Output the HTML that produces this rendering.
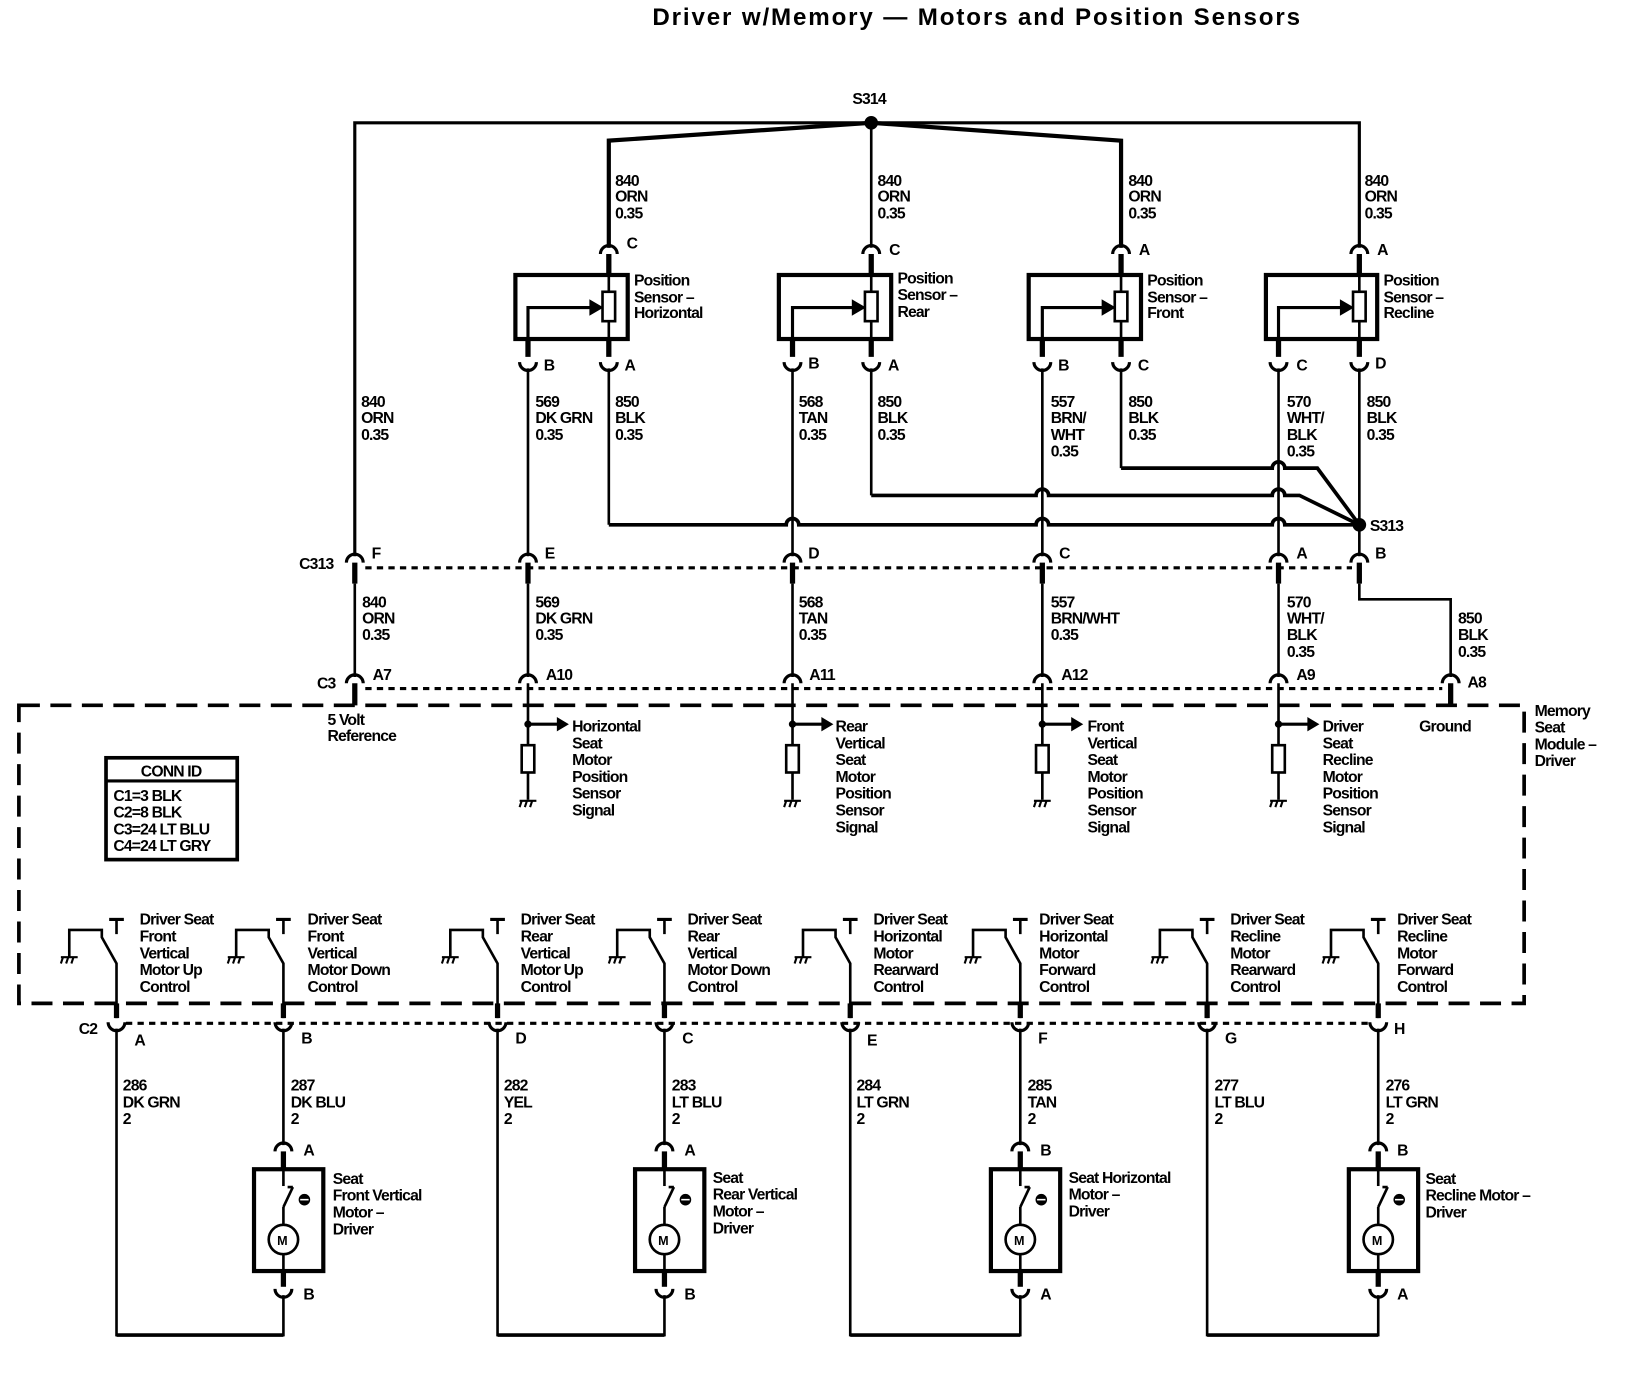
<!DOCTYPE html>
<html><head><meta charset="utf-8"><style>
html,body{margin:0;padding:0;background:#fff}
svg{display:block}
text{font-family:"Liberation Sans",sans-serif;font-size:15px;font-weight:bold;letter-spacing:-0.8px;fill:#000}
</style></head><body>
<svg width="1648" height="1376" viewBox="0 0 1570 1311" preserveAspectRatio="none" xmlns="http://www.w3.org/2000/svg">
<defs>
<g id="cu"><path d="M-8,6 A8,8 0 0 1 8,6" fill="none" stroke="#000" stroke-width="3"/></g>
<g id="cd"><path d="M-8,-6 A8,8 0 0 0 8,-6" fill="none" stroke="#000" stroke-width="3"/></g>
<g id="gnd" fill="none" stroke="#000" stroke-width="2"><path d="M-8,0 H8 M-6,0 L-8,6 M-1,0 L-3,6 M4,0 L2,6"/></g>
<g id="sw" fill="none" stroke="#000">
<path d="M-7,876 H7" stroke-width="3"/><path d="M0,876 V890" stroke-width="2.5"/>
<path d="M-45,912 V886 H-14 V893 L0,918 V970" stroke-width="2.5"/>
<path d="M0,956 V970" stroke-width="5"/>
<use href="#gnd" x="-45" y="912"/>
<use href="#cd" x="0" y="980"/>
</g>
<g id="sens" fill="none" stroke="#000">
<path d="M0,651 V710 M0,736 V762" stroke-width="2.5"/>
<circle cx="0" cy="690" r="3" fill="#000"/>
<path d="M0,690 H30" stroke-width="3"/><path d="M28,684 L38,690 L28,696 Z" fill="#000"/>
<rect x="-6" y="710" width="12" height="26" stroke-width="2.5" fill="#fff"/>
<use href="#gnd" x="0" y="763"/>
</g>
<g id="mot" fill="none" stroke="#000">
<use href="#cu" x="0" y="1091"/>
<path d="M0,1097 V1114" stroke-width="5"/>
<rect x="-28" y="1114" width="66" height="97" stroke-width="4"/>
<path d="M0,1114 V1130" stroke-width="2.5"/>
<path d="M0,1150 L9,1131 M9,1131 H4" stroke-width="2.5"/>
<path d="M0,1150 V1167 M0,1195 V1211" stroke-width="2.5"/>
<circle cx="20" cy="1143" r="5" fill="#000"/><path d="M16,1143 H24" stroke="#fff" stroke-width="1.5"/>
<circle cx="0" cy="1181" r="14" stroke-width="2.5" fill="#fff"/>
<path d="M0,1211 V1226" stroke-width="5"/>
<use href="#cd" x="0" y="1234"/>
</g>
</defs>

<text x="930" y="24" text-anchor="middle" style="font-size:23px;letter-spacing:0" textLength="617">Driver w/Memory — Motors and Position Sensors</text>

<g fill="none" stroke="#000">
<!-- top bus -->
<path d="M338,530 V117 H1295 V236" stroke-width="3"/>
<path d="M580,236 V134 L830,117 L1068,134 V236" stroke-width="4" stroke-linejoin="miter"/>
<path d="M580,134 V236 M1068,134 V236" stroke-width="2.5"/>
<path d="M830,117 V236" stroke-width="2.5"/>
<circle cx="830" cy="117" r="6" fill="#000"/>
<!-- sensor top connectors -->
<use href="#cu" x="580" y="236"/><use href="#cu" x="830" y="236"/><use href="#cu" x="1068" y="236"/><use href="#cu" x="1295" y="236"/>
<path d="M580,242 V262 M830,242 V262 M1068,242 V262 M1295,242 V262" stroke-width="5"/>
<!-- sensor boxes -->
<rect x="491" y="262" width="107" height="61" stroke-width="4"/>
<rect x="742" y="262" width="107" height="61" stroke-width="4"/>
<rect x="980" y="262" width="107" height="61" stroke-width="4"/>
<rect x="1206" y="262" width="106" height="61" stroke-width="4"/>
<path d="M580,262 V323 M830,262 V323 M1068,262 V323 M1295,262 V323" stroke-width="2.5"/>
<rect x="574" y="278" width="12" height="28" stroke-width="2.5" fill="#fff"/>
<rect x="824" y="278" width="12" height="28" stroke-width="2.5" fill="#fff"/>
<rect x="1062" y="278" width="12" height="28" stroke-width="2.5" fill="#fff"/>
<rect x="1289" y="278" width="12" height="28" stroke-width="2.5" fill="#fff"/>
<path d="M503,323 V293 H564 M755,323 V293 H814 M993,323 V293 H1052 M1218,323 V293 H1279" stroke-width="3"/>
<path d="M562,286 L574,293 L562,300 Z M812,286 L824,293 L812,300 Z M1050,286 L1062,293 L1050,300 Z M1277,286 L1289,293 L1277,300 Z" fill="#000"/>
<!-- bottom stubs -->
<path d="M503,323 V340 M580,323 V340 M755,323 V340 M830,323 V340 M993,323 V340 M1068,323 V340 M1218,323 V340 M1295,323 V340" stroke-width="5"/>
<use href="#cd" x="503" y="351"/><use href="#cd" x="580" y="351"/><use href="#cd" x="755" y="351"/><use href="#cd" x="830" y="351"/>
<use href="#cd" x="993" y="351"/><use href="#cd" x="1068" y="351"/><use href="#cd" x="1218" y="351"/><use href="#cd" x="1295" y="351"/>
<!-- wires to C313 -->
<path d="M503,351 V530 M755,351 V530 M993,351 V530 M1218,351 V530 M1295,351 V530" stroke-width="2.5"/>
<path d="M580,351 V500 M830,351 V472 M1068,351 V446" stroke-width="2.5"/>
<path d="M580,500 H749 A6,6 0 0 1 761,500 H987 A6,6 0 0 1 999,500 H1212 A6,6 0 0 1 1224,500 H1295" stroke-width="3.5"/>
<path d="M830,472 H987 A6,6 0 0 1 999,472 H1212 A6,6 0 0 1 1224,472 H1238 L1295,500" stroke-width="3.5"/>
<path d="M1068,446 H1212 A6,6 0 0 1 1224,446 H1255 L1295,500" stroke-width="3.5"/>
<circle cx="1295" cy="500" r="6" fill="#000"/>
<!-- C313 -->
<use href="#cu" x="338" y="530"/><use href="#cu" x="503" y="530"/><use href="#cu" x="755" y="530"/><use href="#cu" x="993" y="530"/><use href="#cu" x="1218" y="530"/><use href="#cu" x="1295" y="530"/>
<path d="M348,541 H1288" stroke-width="3" stroke-dasharray="6,5"/>
<path d="M338,536 V556 M503,536 V556 M755,536 V556 M993,536 V556 M1218,536 V556 M1295,536 V556" stroke-width="5"/>
<path d="M338,556 V645 M503,556 V645 M755,556 V645 M993,556 V645 M1218,556 V645 M1295,556 V571 H1382 V645" stroke-width="2.5"/>
<!-- C3 -->
<use href="#cu" x="338" y="645"/><use href="#cu" x="503" y="645"/><use href="#cu" x="755" y="645"/><use href="#cu" x="993" y="645"/><use href="#cu" x="1218" y="645"/><use href="#cu" x="1382" y="645"/>
<path d="M348,656 H1374" stroke-width="3" stroke-dasharray="6,5"/>
<path d="M338,651 V672 M1382,651 V672" stroke-width="5"/>
<!-- module -->
<rect x="18" y="672" width="1434" height="284" stroke-width="3.5" stroke-dasharray="20,10"/>
<rect x="101" y="722" width="125" height="97" stroke-width="3.5"/>
<path d="M101,744 H226" stroke-width="3"/>
<!-- C2 -->
<path d="M120,975 H1304" stroke-width="3" stroke-dasharray="6,5"/>
<path d="M111,980 V1272 H270 V1234 M270,980 V1091 M474,980 V1272 H633 V1234 M633,980 V1091 M810,980 V1272 H972 V1234 M972,980 V1091 M1150,980 V1272 H1313 V1234 M1313,980 V1091" stroke-width="2.5"/>
<path d="M111,1272 H270 M474,1272 H633 M810,1272 H972 M1150,1272 H1313" stroke-width="3.5"/>
</g>
<use href="#sens" x="503"/><use href="#sens" x="755"/><use href="#sens" x="993"/><use href="#sens" x="1218"/>
<use href="#sw" x="111"/><use href="#sw" x="270"/><use href="#sw" x="474"/><use href="#sw" x="633"/>
<use href="#sw" x="810"/><use href="#sw" x="972"/><use href="#sw" x="1150"/><use href="#sw" x="1313"/>
<use href="#mot" x="270"/><use href="#mot" x="633"/><use href="#mot" x="972"/><use href="#mot" x="1313"/>

<!-- labels -->
<text x="812" y="99">S314</text>
<g>
<text x="586" y="177">840</text><text x="586" y="192">ORN</text><text x="586" y="208">0.35</text>
<text x="836" y="177">840</text><text x="836" y="192">ORN</text><text x="836" y="208">0.35</text>
<text x="1075" y="177">840</text><text x="1075" y="192">ORN</text><text x="1075" y="208">0.35</text>
<text x="1300" y="177">840</text><text x="1300" y="192">ORN</text><text x="1300" y="208">0.35</text>
<text x="597" y="237">C</text><text x="847" y="243">C</text><text x="1085" y="243">A</text><text x="1312" y="243">A</text>
<text x="604" y="272">Position</text><text x="604" y="288">Sensor –</text><text x="604" y="303">Horizontal</text>
<text x="855" y="270">Position</text><text x="855" y="286">Sensor –</text><text x="855" y="302">Rear</text>
<text x="1093" y="272">Position</text><text x="1093" y="288">Sensor –</text><text x="1093" y="303">Front</text>
<text x="1318" y="272">Position</text><text x="1318" y="288">Sensor –</text><text x="1318" y="303">Recline</text>
<text x="518" y="353">B</text><text x="595" y="353">A</text><text x="770" y="351">B</text><text x="846" y="353">A</text>
<text x="1008" y="353">B</text><text x="1084" y="353">C</text><text x="1235" y="353">C</text><text x="1310" y="351">D</text>
<text x="344" y="388">840</text><text x="344" y="403">ORN</text><text x="344" y="419">0.35</text>
<text x="510" y="388">569</text><text x="510" y="403">DK GRN</text><text x="510" y="419">0.35</text>
<text x="586" y="388">850</text><text x="586" y="403">BLK</text><text x="586" y="419">0.35</text>
<text x="761" y="388">568</text><text x="761" y="403">TAN</text><text x="761" y="419">0.35</text>
<text x="836" y="388">850</text><text x="836" y="403">BLK</text><text x="836" y="419">0.35</text>
<text x="1001" y="388">557</text><text x="1001" y="403">BRN/</text><text x="1001" y="419">WHT</text><text x="1001" y="435">0.35</text>
<text x="1075" y="388">850</text><text x="1075" y="403">BLK</text><text x="1075" y="419">0.35</text>
<text x="1226" y="388">570</text><text x="1226" y="403">WHT/</text><text x="1226" y="419">BLK</text><text x="1226" y="435">0.35</text>
<text x="1302" y="388">850</text><text x="1302" y="403">BLK</text><text x="1302" y="419">0.35</text>
<text x="1305" y="506">S313</text>
<text x="285" y="542">C313</text>
<text x="354" y="532">F</text><text x="519" y="532">E</text><text x="770" y="532">D</text><text x="1009" y="532">C</text><text x="1235" y="532">A</text><text x="1310" y="532">B</text>
<text x="345" y="579">840</text><text x="345" y="594">ORN</text><text x="345" y="610">0.35</text>
<text x="510" y="579">569</text><text x="510" y="594">DK GRN</text><text x="510" y="610">0.35</text>
<text x="761" y="579">568</text><text x="761" y="594">TAN</text><text x="761" y="610">0.35</text>
<text x="1001" y="579">557</text><text x="1001" y="594">BRN/WHT</text><text x="1001" y="610">0.35</text>
<text x="1226" y="579">570</text><text x="1226" y="594">WHT/</text><text x="1226" y="610">BLK</text><text x="1226" y="626">0.35</text>
<text x="1389" y="594">850</text><text x="1389" y="610">BLK</text><text x="1389" y="626">0.35</text>
<text x="302" y="656">C3</text>
<text x="355" y="648">A7</text><text x="520" y="648">A10</text><text x="771" y="648">A11</text><text x="1011" y="648">A12</text><text x="1235" y="648">A9</text><text x="1398" y="655">A8</text>
<text x="312" y="691">5 Volt</text><text x="312" y="706">Reference</text>
<text x="545" y="697">Horizontal</text><text x="545" y="713">Seat</text><text x="545" y="729">Motor</text><text x="545" y="745">Position</text><text x="545" y="761">Sensor</text><text x="545" y="777">Signal</text>
<text x="796" y="697">Rear</text><text x="796" y="713">Vertical</text><text x="796" y="729">Seat</text><text x="796" y="745">Motor</text><text x="796" y="761">Position</text><text x="796" y="777">Sensor</text><text x="796" y="793">Signal</text>
<text x="1036" y="697">Front</text><text x="1036" y="713">Vertical</text><text x="1036" y="729">Seat</text><text x="1036" y="745">Motor</text><text x="1036" y="761">Position</text><text x="1036" y="777">Sensor</text><text x="1036" y="793">Signal</text>
<text x="1260" y="697">Driver</text><text x="1260" y="713">Seat</text><text x="1260" y="729">Recline</text><text x="1260" y="745">Motor</text><text x="1260" y="761">Position</text><text x="1260" y="777">Sensor</text><text x="1260" y="793">Signal</text>
<text x="1352" y="697">Ground</text>
<text x="1462" y="682">Memory</text><text x="1462" y="698">Seat</text><text x="1462" y="714">Module –</text><text x="1462" y="730">Driver</text>
<text x="163" y="740" text-anchor="middle">CONN ID</text>
<text x="108" y="763">C1=3 BLK</text><text x="108" y="779">C2=8 BLK</text><text x="108" y="795">C3=24 LT BLU</text><text x="108" y="811">C4=24 LT GRY</text>
<text x="133" y="881">Driver Seat</text><text x="133" y="897">Front</text><text x="133" y="913">Vertical</text><text x="133" y="929">Motor Up</text><text x="133" y="945">Control</text>
<text x="293" y="881">Driver Seat</text><text x="293" y="897">Front</text><text x="293" y="913">Vertical</text><text x="293" y="929">Motor Down</text><text x="293" y="945">Control</text>
<text x="496" y="881">Driver Seat</text><text x="496" y="897">Rear</text><text x="496" y="913">Vertical</text><text x="496" y="929">Motor Up</text><text x="496" y="945">Control</text>
<text x="655" y="881">Driver Seat</text><text x="655" y="897">Rear</text><text x="655" y="913">Vertical</text><text x="655" y="929">Motor Down</text><text x="655" y="945">Control</text>
<text x="832" y="881">Driver Seat</text><text x="832" y="897">Horizontal</text><text x="832" y="913">Motor</text><text x="832" y="929">Rearward</text><text x="832" y="945">Control</text>
<text x="990" y="881">Driver Seat</text><text x="990" y="897">Horizontal</text><text x="990" y="913">Motor</text><text x="990" y="929">Forward</text><text x="990" y="945">Control</text>
<text x="1172" y="881">Driver Seat</text><text x="1172" y="897">Recline</text><text x="1172" y="913">Motor</text><text x="1172" y="929">Rearward</text><text x="1172" y="945">Control</text>
<text x="1331" y="881">Driver Seat</text><text x="1331" y="897">Recline</text><text x="1331" y="913">Motor</text><text x="1331" y="929">Forward</text><text x="1331" y="945">Control</text>
<text x="75" y="985">C2</text>
<text x="128" y="996">A</text><text x="287" y="994">B</text><text x="491" y="994">D</text><text x="650" y="994">C</text>
<text x="826" y="996">E</text><text x="989" y="994">F</text><text x="1167" y="994">G</text><text x="1328" y="985">H</text>
<text x="117" y="1039">286</text><text x="117" y="1055">DK GRN</text><text x="117" y="1071">2</text>
<text x="277" y="1039">287</text><text x="277" y="1055">DK BLU</text><text x="277" y="1071">2</text>
<text x="480" y="1039">282</text><text x="480" y="1055">YEL</text><text x="480" y="1071">2</text>
<text x="640" y="1039">283</text><text x="640" y="1055">LT BLU</text><text x="640" y="1071">2</text>
<text x="816" y="1039">284</text><text x="816" y="1055">LT GRN</text><text x="816" y="1071">2</text>
<text x="979" y="1039">285</text><text x="979" y="1055">TAN</text><text x="979" y="1071">2</text>
<text x="1157" y="1039">277</text><text x="1157" y="1055">LT BLU</text><text x="1157" y="1071">2</text>
<text x="1320" y="1039">276</text><text x="1320" y="1055">LT GRN</text><text x="1320" y="1071">2</text>
<text x="289" y="1101">A</text><text x="652" y="1101">A</text><text x="991" y="1101">B</text><text x="1331" y="1101">B</text>
<text x="289" y="1238">B</text><text x="652" y="1238">B</text><text x="991" y="1238">A</text><text x="1331" y="1238">A</text>
<text x="264" y="1186" style="font-size:12px;letter-spacing:0">M</text><text x="627" y="1186" style="font-size:12px;letter-spacing:0">M</text><text x="966" y="1186" style="font-size:12px;letter-spacing:0">M</text><text x="1307" y="1186" style="font-size:12px;letter-spacing:0">M</text>
<text x="317" y="1128">Seat</text><text x="317" y="1144">Front Vertical</text><text x="317" y="1160">Motor –</text><text x="317" y="1176">Driver</text>
<text x="679" y="1127">Seat</text><text x="679" y="1143">Rear Vertical</text><text x="679" y="1159">Motor –</text><text x="679" y="1175">Driver</text>
<text x="1018" y="1127">Seat Horizontal</text><text x="1018" y="1143">Motor –</text><text x="1018" y="1159">Driver</text>
<text x="1358" y="1128">Seat</text><text x="1358" y="1144">Recline Motor –</text><text x="1358" y="1160">Driver</text>
</g>
</svg>
</body></html>
